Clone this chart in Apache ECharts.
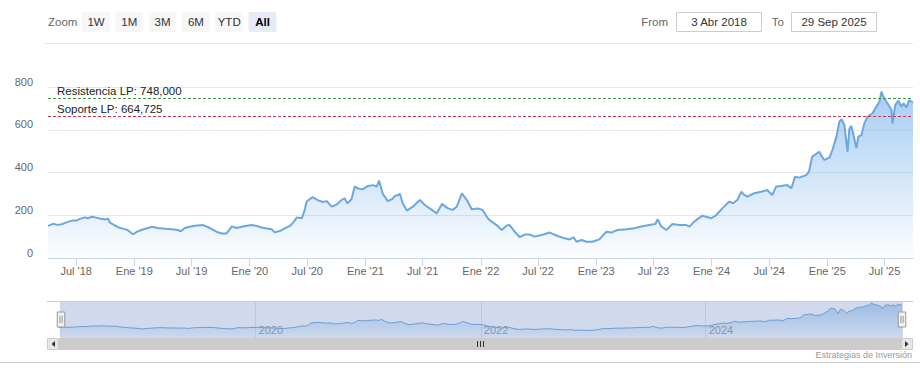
<!DOCTYPE html>
<html><head><meta charset="utf-8">
<script src="https://cdn.jsdelivr.net/npm/echarts@6/dist/echarts.min.js"></script>
<style>html,body{margin:0;padding:0;background:#fff}#c{width:920px;height:375px}</style>
</head><body><div id="c"></div>
<script>
const dates = ['2018-04-03','2018-04-19','2018-05-02','2018-05-17','2018-06-02','2018-06-21','2018-07-01','2018-07-13','2018-07-29','2018-08-07','2018-08-20','2018-08-30','2018-09-14','2018-09-30','2018-10-10','2018-10-16','2018-11-01','2018-11-17','2018-12-02','2018-12-12','2018-12-21','2018-12-28',
'2019-01-09','2019-01-25','2019-02-13','2019-02-25','2019-03-16','2019-04-08','2019-04-30','2019-05-19','2019-05-28','2019-06-10','2019-06-29','2019-07-18','2019-08-06','2019-08-21','2019-09-03','2019-09-19','2019-10-05','2019-10-20','2019-11-05','2019-11-21','2019-12-10',
'2020-01-07','2020-01-23','2020-02-08','2020-02-24','2020-03-11','2020-03-20','2020-04-05','2020-04-21','2020-05-07','2020-05-20','2020-05-29','2020-06-14','2020-06-23','2020-06-29','2020-07-18','2020-08-03','2020-08-19','2020-09-01','2020-09-16','2020-10-02','2020-10-18','2020-10-27','2020-11-05','2020-11-18','2020-11-28','2020-12-07','2020-12-23',
'2021-01-09','2021-01-25','2021-02-06','2021-02-13','2021-02-25','2021-03-13','2021-03-26','2021-04-04','2021-04-14','2021-04-20','2021-04-29','2021-05-12','2021-05-31','2021-06-22','2021-07-08','2021-07-30','2021-08-15','2021-08-31','2021-09-19','2021-10-04','2021-10-17','2021-11-02','2021-11-18','2021-12-03','2021-12-22',
'2022-01-07','2022-01-23','2022-02-04','2022-02-20','2022-03-08','2022-03-24','2022-04-02','2022-04-18','2022-05-04','2022-05-20','2022-06-04','2022-06-20','2022-07-12','2022-08-07','2022-09-01','2022-09-23','2022-10-09','2022-10-21','2022-10-31','2022-11-16','2022-12-01','2022-12-20',
'2023-01-11','2023-02-02','2023-02-18','2023-03-09','2023-04-07','2023-05-02','2023-05-24','2023-06-18','2023-07-07','2023-07-14','2023-07-26','2023-08-11','2023-08-30','2023-09-21','2023-10-13','2023-10-23','2023-11-07','2023-12-03','2023-12-31',
'2024-01-16','2024-02-04','2024-02-26','2024-03-09','2024-03-22','2024-04-04','2024-04-13','2024-04-23','2024-05-15','2024-06-06','2024-06-25','2024-07-11','2024-07-23','2024-08-08','2024-08-27','2024-09-09','2024-09-21','2024-10-04','2024-10-26','2024-11-04','2024-11-14','2024-11-27','2024-12-06','2024-12-22',
'2025-01-08','2025-01-17','2025-01-30','2025-02-08','2025-02-15','2025-02-24','2025-03-06','2025-03-12','2025-03-18','2025-03-25','2025-04-03','2025-04-09','2025-04-19','2025-04-28','2025-05-08','2025-05-24','2025-06-05','2025-06-15','2025-06-21','2025-06-30','2025-07-10','2025-07-23','2025-07-26','2025-08-04','2025-08-14','2025-08-23','2025-08-30','2025-09-08','2025-09-17','2025-09-29'];
const values = [150,160,155,158,168,176,175,183,190,186,193,190,185,180,184,165,152,140,135,130,118,111,
122,132,140,146,140,137,135,131,125,140,147,152,154,145,135,122,115,115,147,140,147,
154,150,143,138,134,120,126,139,150,170,190,186,225,264,285,271,262,266,240,250,272,279,256,275,335,326,321,
337,341,334,362,300,266,275,290,295,300,256,222,240,271,248,225,209,253,232,225,240,302,271,228,232,
225,186,170,154,131,152,154,123,98,110,110,100,108,119,103,92,87,97,76,84,76,76,
87,123,119,131,134,139,147,154,159,181,147,131,159,154,154,147,170,198,186,
201,232,264,256,271,310,295,287,303,310,318,295,334,337,341,326,380,376,388,404,474,487,497,458,
471,505,568,638,649,622,497,607,618,575,513,568,575,630,661,677,708,731,778,746,724,692,630,716,736,708,724,705,739,727];

const startDate = '2018-04-03';
const endDate = '2025-09-29';
const xTickDates = ['2018-07-01','2019-01-01','2019-07-01','2020-01-01','2020-07-01','2021-01-01','2021-07-01','2022-01-01','2022-07-01','2023-01-01','2023-07-01','2024-01-01','2024-07-01','2025-01-01','2025-07-01'];
const xTickLabels = ["Jul '18","Ene '19","Jul '19","Ene '20","Jul '20","Ene '21","Jul '21","Ene '22","Jul '22","Ene '23","Jul '23","Ene '24","Jul '24","Ene '25","Jul '25"];
const navTickDates = ['2020-01-01','2022-01-01','2024-01-01'];
const navTickLabels = ['2020','2022','2024'];
const yTicks = [0, 200, 400, 600, 800];
const plotLineValues = [748, 664.725];
const plotLineLabels = ['Resistencia LP: 748,000', 'Soporte LP: 664,725'];
const plotLineColors = ['#3f9a3f', '#c8364f'];
const rangeButtons = ['1W','1M','3M','6M','YTD','All'];
const selectedButton = 'All';
const fromLabel = '3 Abr 2018';
const toLabel = '29 Sep 2025';
const creditsText = 'Estrategias de Inversión';

const FONT = '"Liberation Sans", Arial, sans-serif';
function ts(s){ const p = s.split('-').map(Number); return Date.UTC(p[0], p[1]-1, p[2]); }
const xTicks = xTickDates.map(ts);
const navTicks = navTickDates.map(ts);
const seriesData = dates.map((d,i)=>[ts(d), values[i]]);
function lookup(ticks, labels){ return function(v){ let best=0, bd=Infinity; ticks.forEach((t,i)=>{const dd=Math.abs(t-v); if(dd<bd){bd=dd;best=i;}}); return bd < 86400000*5 ? labels[best] : ''; }; }

const graphic = [];
graphic.push({type:'text', x:48, y:22, style:{text:'Zoom', fill:'#666', font:'11.5px '+FONT, verticalAlign:'middle', align:'left'}});
rangeButtons.forEach((b,i)=>{
  const x = 82 + i*33.3;
  const sel = b === selectedButton;
  graphic.push({type:'rect', shape:{x:x, y:12, width:28, height:20, r:2}, style:{fill: sel ? '#e6ebf5' : '#f7f7f7'}});
  graphic.push({type:'text', x:x+14, y:22, style:{text:b, fill: sel ? '#000' : '#333', font:(sel?'bold ':'')+'11.5px '+FONT, align:'center', verticalAlign:'middle'}});
});
graphic.push({type:'text', x:668, y:22, style:{text:'From', fill:'#666', font:'11.5px '+FONT, align:'right', verticalAlign:'middle'}});
graphic.push({type:'rect', shape:{x:676.5, y:12.5, width:85, height:19}, style:{fill:'#fff', stroke:'#cccccc', lineWidth:1}});
graphic.push({type:'text', x:719, y:22, style:{text:fromLabel, fill:'#333', font:'11.5px '+FONT, align:'center', verticalAlign:'middle'}});
graphic.push({type:'text', x:784, y:22, style:{text:'To', fill:'#666', font:'11.5px '+FONT, align:'right', verticalAlign:'middle'}});
graphic.push({type:'rect', shape:{x:791.5, y:12.5, width:85, height:19}, style:{fill:'#fff', stroke:'#cccccc', lineWidth:1}});
graphic.push({type:'text', x:834, y:22, style:{text:toLabel, fill:'#333', font:'11.5px '+FONT, align:'center', verticalAlign:'middle'}});
graphic.push({type:'line', shape:{x1:45, y1:43.5, x2:913, y2:43.5}, style:{stroke:'#e6e6e6', lineWidth:1}});
graphic.push({type:'line', shape:{x1:47, y1:301.5, x2:913, y2:301.5}, style:{stroke:'#cccccc', lineWidth:1}, z:10});
graphic.push({type:'rect', shape:{x:47, y:338, width:866, height:12}, style:{fill:'#f2f2f2'}});
graphic.push({type:'rect', shape:{x:59, y:338, width:843, height:12}, style:{fill:'#cccccc'}});
graphic.push({type:'rect', shape:{x:47.5, y:338.5, width:11, height:11}, style:{fill:'#e6e6e6', stroke:'#cccccc', lineWidth:1}});
graphic.push({type:'rect', shape:{x:901.5, y:338.5, width:11, height:11}, style:{fill:'#e6e6e6', stroke:'#cccccc', lineWidth:1}});
graphic.push({type:'polygon', shape:{points:[[51.5,344],[55,341],[55,347]]}, style:{fill:'#333'}});
graphic.push({type:'polygon', shape:{points:[[908.5,344],[905,341],[905,347]]}, style:{fill:'#333'}});
[477.5,480.5,483.5].forEach(x=>graphic.push({type:'line', shape:{x1:x, y1:341, x2:x, y2:347}, style:{stroke:'#333', lineWidth:1}}));
graphic.push({type:'text', x:912, y:355, style:{text:creditsText, fill:'#999', font:'9px '+FONT, align:'right', verticalAlign:'middle'}});
graphic.push({type:'line', shape:{x1:0, y1:362.5, x2:920, y2:362.5}, style:{stroke:'#cccccc', lineWidth:1}});

const chart = echarts.init(document.getElementById('c'), null, {renderer:'svg'});
chart.setOption({
  animation:false,
  backgroundColor:'#fff',
  textStyle:{fontFamily:FONT},
  grid:[
    {left:48, right:7, top:87, height:171},
    {left:59, right:18, top:301, height:37}
  ],
  xAxis:[
    {type:'value', gridIndex:0, min:ts(startDate), max:ts(endDate), scale:true,
     axisLine:{show:true, onZero:false, lineStyle:{color:'#ccd6eb'}},
     axisTick:{show:true, length:8, lineStyle:{color:'#ccd6eb'}, customValues:xTicks},
     axisLabel:{customValues:xTicks, formatter:lookup(xTicks,xTickLabels), color:'#666', fontSize:11, fontFamily:FONT, margin:7, hideOverlap:false},
     splitLine:{show:false}},
    {type:'value', gridIndex:1, min:ts(startDate), max:ts(endDate), scale:true,
     axisLine:{show:false},
     axisTick:{show:false, customValues:navTicks},
     axisLabel:{customValues:navTicks, formatter:lookup(navTicks,navTickLabels), inside:true, color:'#999', fontSize:11, fontFamily:FONT, align:'left', padding:[0,0,0,3], margin:3},
     splitLine:{show:true, lineStyle:{color:'#e6e6e6'}}}
  ],
  yAxis:[
    {type:'value', gridIndex:0, min:yTicks[0], max:yTicks[yTicks.length-1], interval:200,
     axisLine:{show:false}, axisTick:{show:false},
     axisLabel:{color:'#666', fontSize:11, fontFamily:FONT, margin:15, verticalAlign:'bottom'},
     splitLine:{lineStyle:{color:'#e6e6e6'}}},
    {type:'value', gridIndex:1, min:-120, max:830, show:false, splitLine:{show:false}}
  ],
  dataZoom:[{
    type:'slider', xAxisIndex:1, filterMode:'none', start:0, end:100, zoomLock:true,
    left:59, right:18, top:301, height:37,
    showDetail:false, showDataShadow:false, brushSelect:false, moveHandleSize:0,
    backgroundColor:'transparent', borderColor:'transparent',
    fillerColor:'rgba(102,133,194,0.3)',
    handleIcon:'path://M0.5,0.5 L7.5,0.5 L7.5,14.5 L0.5,14.5 Z M3,4 L3,11 M5,4 L5,11',
    handleSize:15,
    handleStyle:{color:'#f2f2f2', borderColor:'#999999', borderWidth:1},
    emphasis:{handleStyle:{color:'#f2f2f2', borderColor:'#999999', borderWidth:1}}
  }],
  series:[
    {type:'line', xAxisIndex:0, yAxisIndex:0, data:seriesData, symbol:'none', showSymbol:false, silent:true,
     lineStyle:{color:'#6ea7de', width:2},
     areaStyle:{origin:'start', color:new echarts.graphic.LinearGradient(0,0,0,1,[{offset:0,color:'rgba(124,181,236,0.95)'},{offset:1,color:'rgba(124,181,236,0.04)'}])},
     markLine:{silent:true, symbol:'none', animation:false,
       label:{show:true, position:'insideStartTop', color:'#222', fontSize:11.5, fontFamily:FONT, distance:[9,1]},
       data: plotLineValues.map((v,i)=>({yAxis:v, lineStyle:{color:plotLineColors[i], type:[3,2], width:1}, label:{formatter:plotLineLabels[i]}}))
     }},
    {type:'line', xAxisIndex:1, yAxisIndex:1, data:seriesData, symbol:'none', showSymbol:false, silent:true,
     lineStyle:{color:'#6ea7de', width:1},
     areaStyle:{origin:'start', color:new echarts.graphic.LinearGradient(0,0,0,1,[{offset:0,color:'rgba(124,181,236,0.8)'},{offset:1,color:'rgba(124,181,236,0.05)'}])}}
  ],
  graphic:graphic
});
</script></body></html>
